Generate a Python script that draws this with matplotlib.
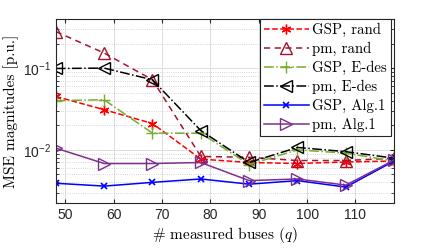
import numpy as np
import matplotlib
matplotlib.use("Agg")
import matplotlib.pyplot as plt
from matplotlib.ticker import LogLocator, FixedLocator, FuncFormatter, NullFormatter

q = [48, 58, 68, 78, 88, 98, 108, 118]
gsp_rand = [0.045, 0.031, 0.021, 0.0077, 0.0070, 0.0068, 0.0071, 0.0073]
pm_rand = [0.28, 0.153, 0.072, 0.0083, 0.0081, 0.0074, 0.0074, 0.0079]
gsp_edes = [0.040, 0.041, 0.016, 0.016, 0.0066, 0.0100, 0.0091, 0.0073]
pm_edes = [0.099, 0.100, 0.072, 0.0172, 0.0070, 0.0107, 0.0095, 0.0079]
gsp_alg1 = [0.0039, 0.0036, 0.0040, 0.0044, 0.0038, 0.0042, 0.0035, 0.0073]
pm_alg1 = [0.0105, 0.0068, 0.0068, 0.0070, 0.0042, 0.0044, 0.0037, 0.0075]
labels = ["GSP, rand", "pm, rand", "GSP, E-des", "pm, E-des", "GSP, Alg.1", "pm, Alg.1"]
xticks = [50, 60, 70, 80, 90, 100, 110]

plt.rcParams['font.family'] = ['Liberation Sans', 'DejaVu Sans']
plt.rcParams['mathtext.fontset'] = 'cm'
plt.rcParams['axes.unicode_minus'] = False

fig = plt.figure(figsize=(4.36, 2.49), dpi=100)
ax = fig.add_axes([0.128, 0.185, 0.776, 0.739])

serif = {'family': 'cmr10'}

ax.plot(q, gsp_rand, color='#ff0000', ls='--', lw=1.1, marker=(6, 2, 0), ms=7, mew=1.0, label=labels[0])
ax.plot(q, pm_rand, color='#a2142f', ls=(0, (4, 3)), lw=1.1, marker='^', ms=8, mfc='none', mew=1.0, label=labels[1])
ax.plot(q, gsp_edes, color='#77ac30', ls='-.', lw=1.1, marker='+', ms=8, mew=1.0, label=labels[2])
ax.plot(q, pm_edes, color='black', ls='-.', lw=1.1, marker='<', ms=8, mfc='none', mew=1.0, label=labels[3])
ax.plot(q, gsp_alg1, color='#0000ff', ls='-', lw=1.1, marker='x', ms=5, mew=1.2, label=labels[4])
ax.plot(q, pm_alg1, color='#7e2f8e', ls='-', lw=1.1, marker='>', ms=8, mfc='none', mew=1.0, label=labels[5])

ax.set_yscale('log')
ax.set_xlim(48, 118)
ax.set_ylim(0.00224, 0.4)
ax.xaxis.set_major_locator(FixedLocator(xticks))
ax.yaxis.set_major_locator(FixedLocator([1e-2, 1e-1]))
ax.yaxis.set_major_formatter(FuncFormatter(lambda v, p: r'$\mathregular{10^{%d}}$' % int(round(np.log10(v)))))
ax.yaxis.set_minor_locator(LogLocator(base=10, subs=np.arange(2, 10)))
ax.yaxis.set_minor_formatter(NullFormatter())

ax.grid(True, which='major', color='#dcdcdc', lw=0.7, ls='-')
ax.grid(True, which='minor', axis='y', color='#c8c8c8', lw=0.6, ls=':')
ax.set_axisbelow(True)
ax.tick_params(which='both', direction='in', top=True, right=True, labelsize=10, colors='#262626', length=3)
ax.tick_params(which='minor', length=2)
for s in ax.spines.values():
    s.set_color('#262626')
    s.set_linewidth(0.8)

ax.set_xlabel(r'# measured buses ($q$)', fontdict=serif, fontsize=11, labelpad=2)
ax.set_ylabel('MSE magnitudes [p.u.]', fontdict=serif, fontsize=11, labelpad=3)

leg = ax.legend(loc='upper right', prop={'family': 'cmr10', 'size': 10.7}, fancybox=False,
                framealpha=1, edgecolor='#262626', borderpad=0.25, labelspacing=0.33,
                handlelength=3.0, handletextpad=0.25, borderaxespad=0.0,
                bbox_to_anchor=(0.99, 1.0))
leg.get_frame().set_linewidth(0.8)

fig.savefig('out.png', dpi=100)
